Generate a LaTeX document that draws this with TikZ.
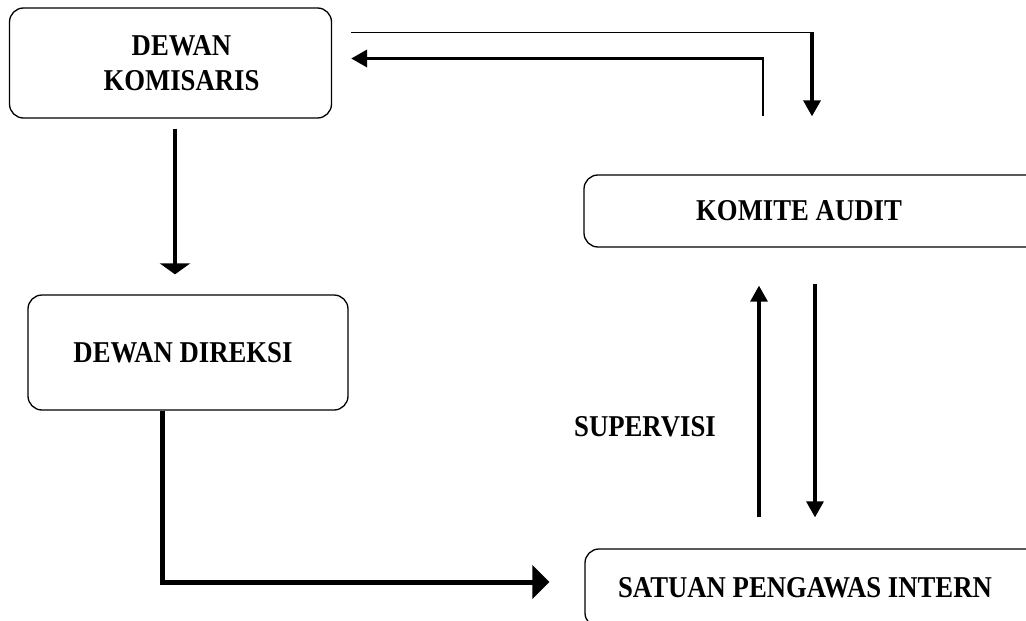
\documentclass[tikz,border=0pt]{standalone}
\usepackage{fontspec}
\usepackage{graphicx}
\setmainfont{Liberation Serif}
\usetikzlibrary{arrows.meta}
\newcommand\talltxt[1]{\scalebox{0.99}[1.12]{#1}}
\begin{document}
\begin{tikzpicture}[x=1pt,y=-1pt,
  box/.style={draw, line width=1.3pt, rounded corners=14pt, inner sep=0pt,
    font=\bfseries\fontsize{27}{35}\selectfont, align=center},
  lbl/.style={font=\bfseries\fontsize{27}{35}\selectfont, inner sep=0pt},
  thinln/.style={line width=1.5pt},
  thickln/.style={line width=3.5pt},
  heavyln/.style={line width=5pt},
  midln/.style={line width=3.2pt},
  tipA/.style={-{Triangle[length=16pt,width=17pt]}},
]
\useasboundingbox (0,0) rectangle (1026,621);
\clip (0,0) rectangle (1026,621);

% boxes
\node[box, minimum width=322pt, minimum height=110pt] (dk) at (170.5,63)
  {\hspace*{22pt}\talltxt{DEWAN}\\\hspace*{22pt}\talltxt{KOMISARIS}};
\node[box, minimum width=320pt, minimum height=115pt] (dd) at (188,352.5)
  {\hspace*{-10pt}\talltxt{DEWAN DIREKSI}};
\node[box, minimum width=456pt, minimum height=72pt] (ka) at (812,211)
  {\hspace*{-26pt}\raisebox{-4pt}{\talltxt{KOMITE AUDIT}}};
\node[box, minimum width=455pt, minimum height=78pt] (spi) at (812.5,588)
  {\hspace*{-15pt}\talltxt{SATUAN PENGAWAS INTERN}};
\node[lbl] (sup) at (645,427) {\talltxt{SUPERVISI}};

% Dewan Komisaris -> Dewan Direksi
\draw[thickln, -{Triangle[length=11pt,width=30pt]}, shorten <=10pt, shorten >=20pt]
  ([xshift=4.5pt]dk.south) -- ([xshift=4.5pt]dk.south |- dd.north);

% Dewan Direksi -> Satuan Pengawas Intern
\draw[heavyln, -{Triangle[length=17pt,width=33pt]}, shorten >=35pt]
  ([xshift=-26pt]dd.south) |- ([yshift=6pt]spi.west);

% Komite Audit <-> SPI
\draw[midln, tipA, shorten <=31pt, shorten >=38pt]
  ([xshift=-53.5pt]spi.north) -- ([xshift=-53.5pt]spi.north |- ka.south);
\draw[midln, tipA, shorten <=36pt, shorten >=31pt]
  ([xshift=3pt]ka.south) -- ([xshift=3pt]ka.south |- spi.north);

% Dewan Komisaris -> Komite Audit
\coordinate (t1) at ([xshift=19pt,yshift=-25pt]dk.north east);
\draw[thinln] (t1) -- (t1 -| ka.north);
\draw[thickln, tipA, shorten >=58pt] ([yshift=0.75pt]t1 -| ka.north) -- (ka.north);

% Komite Audit -> Dewan Komisaris
\coordinate (t2) at ([xshift=-49pt]ka.north);
\coordinate (t3) at ([yshift=4.5pt]dk.east);
\draw[thinln] ([yshift=58pt]t2) -- ([yshift=-1.75pt]t2 |- t3);
\draw[thickln, tipA, shorten >=19pt] ([xshift=0.75pt]t2 |- t3) -- (t3);
\end{tikzpicture}
\end{document}
